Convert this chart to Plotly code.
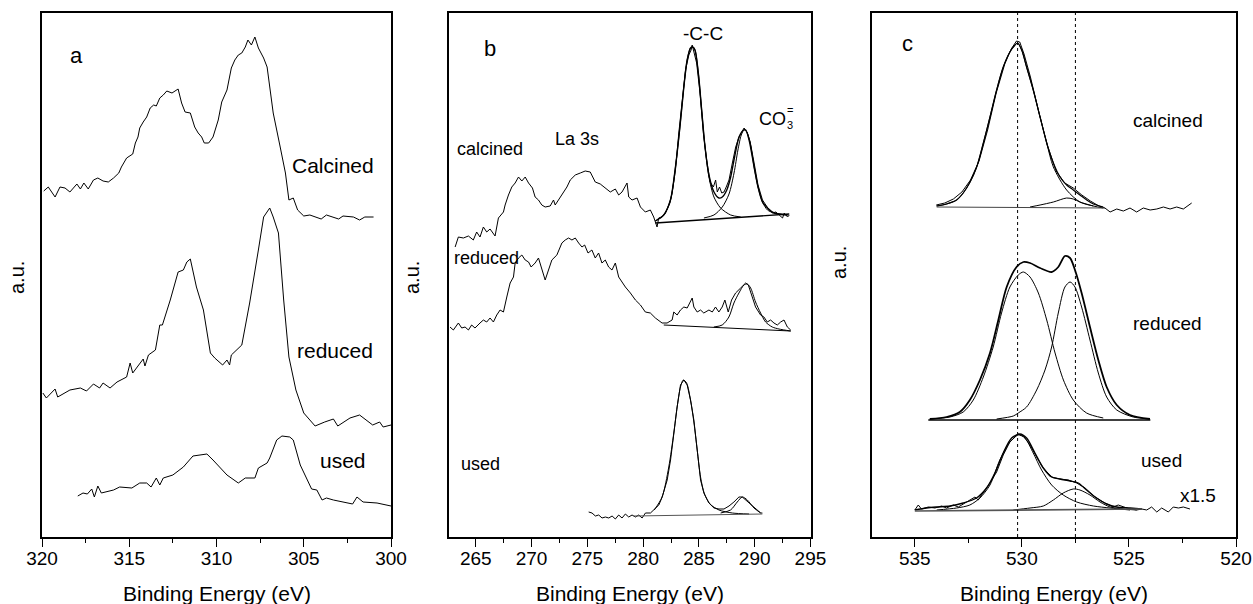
import plotly.graph_objects as go

FONT = "Liberation Sans, Arial, sans-serif"

# ---------------- Panel a ----------------
a_cal_E = [319.9, 319.64, 319.25, 318.97, 318.68, 318.4, 318.0, 317.8, 317.6, 317.35, 317.05, 316.8, 316.5, 316.2,
           315.9, 315.6, 315.45, 315.15, 314.8, 314.65, 314.5, 314.4, 314.2, 314.0, 313.8, 313.6, 313.45, 313.25,
           313.05, 312.85, 312.55, 312.4, 312.2, 312.0, 311.8, 311.5, 311.25, 311.05, 310.85, 310.7, 310.45, 310.2,
           309.9, 309.7, 309.4, 309.15, 308.95, 308.75, 308.55, 308.35, 308.2, 308.0, 307.8, 307.6, 307.3, 307.1,
           306.95, 306.75, 306.35, 306.05, 305.85, 305.6, 305.35, 305.0, 304.65, 304.25, 304.0, 303.7, 303.3, 303.0,
           302.75, 302.15, 301.8, 301.5, 301.0]
a_cal_I = [346, 350, 340, 350, 349, 345, 353, 348, 354, 348, 357, 359, 356, 355, 359, 364, 370, 379, 383, 394,
           400, 409, 415, 420, 429, 432, 431, 439, 442, 446, 444, 446, 448, 434, 425, 424, 410, 404, 400, 394,
           394, 400, 417, 435, 447, 469, 477, 482, 484, 490, 497, 492, 500, 489, 479, 470, 450, 424, 390, 364,
           337, 339, 327, 321, 322, 320, 318, 322, 320, 318, 321, 320, 317, 320, 320]

a_red_E = [319.95, 319.75, 319.25, 319.1, 318.4, 317.8, 317.45, 317.05, 316.7, 316.5, 316.1, 315.7, 315.15, 314.95,
           314.8, 314.2, 314.1, 313.9, 313.5, 313.25, 313.1, 312.65, 312.2, 311.9, 311.7, 311.5, 311.15, 310.75,
           310.35, 310.1, 309.65, 309.4, 309.25, 309.15, 308.55, 308.1, 307.6, 307.3, 306.95, 306.75, 306.45, 306.15,
           305.85, 305.45, 305.0, 304.35, 303.8, 303.3, 303.05, 302.35, 301.8, 301.05, 300.65, 300.45, 300.0]
a_red_I = [144, 139, 148, 140, 147, 149, 146, 153, 149, 154, 149, 155, 160, 174, 164, 178, 171, 182, 187, 212,
           212, 237, 265, 267, 275, 278, 250, 227, 184, 179, 172, 177, 172, 182, 192, 234, 287, 320, 329, 320,
           304, 237, 180, 147, 124, 111, 115, 118, 111, 119, 122, 112, 115, 110, 112]

a_used_E = [317.95, 317.65, 317.4, 317.15, 317.0, 316.8, 316.6, 315.9, 315.55, 314.85, 314.4, 314.0, 313.75, 313.45,
            313.25, 313.05, 312.5, 311.9, 311.35, 310.75, 310.55, 310.2, 309.4, 308.75, 308.35, 307.8, 307.6, 307.1,
            306.95, 306.55, 306.25, 305.8, 305.6, 305.2, 304.55, 304.25, 303.95, 303.7, 303.3, 302.2, 301.95, 301.6,
            300.8, 300.0]
a_used_I = [41, 44, 43, 48, 40, 51, 44, 47, 50, 49, 54, 54, 50, 59, 52, 59, 62, 70, 81, 82, 83, 77, 62, 54,
            59, 59, 69, 74, 79, 97, 101, 100, 97, 72, 48, 47, 37, 39, 37, 33, 40, 35, 34, 31]

# ---------------- Panel b (C 1s / La 3s) ----------------
b_cal_E1 = [263.15, 263.44, 263.89, 264.34, 264.78, 265.08, 265.38, 265.68, 265.98, 266.28, 266.73, 267.03, 267.48,
            267.63, 267.93, 268.23, 268.53, 268.83, 269.13, 269.43, 269.73, 270.08, 270.32, 270.62, 270.92, 271.22,
            271.67, 271.97, 272.12, 272.57, 272.87, 273.17, 273.47, 273.92, 274.37, 274.81, 275.26, 275.71, 276.16,
            276.61, 277.06, 277.51, 277.81, 278.11, 278.56, 278.71, 279.01, 279.46, 279.76, 280.2, 280.65, 280.95]
b_cal_I1 = [290, 300, 299, 301, 297, 305, 300, 310, 305, 308, 301, 319, 325, 332, 342, 350, 354, 360, 356, 360,
            354, 349, 340, 337, 332, 330, 331, 337, 332, 340, 344, 350, 357, 362, 364, 366, 365, 355, 353, 349,
            345, 348, 342, 345, 354, 340, 337, 339, 330, 325, 327, 320]
b_cal_E2 = [281.1, 281.25, 281.4, 281.7, 282.0, 282.2, 282.4, 282.6, 282.9, 283.2, 283.5, 283.8, 284.1, 284.3, 284.4,
            284.55, 284.8, 285.1, 285.4, 285.7, 286.0, 286.3, 286.5, 286.65, 286.85, 287.05, 287.25, 287.45, 287.7,
            288.0, 288.3, 288.6, 288.85, 289.05, 289.3, 289.6, 289.95, 290.3, 290.7, 291.0, 291.3, 291.6, 291.9,
            292.2, 292.5, 292.65, 292.95, 293.1]
b_cal_I2 = [315, 310, 319, 320, 324, 330, 334, 344, 367, 404, 437, 467, 482, 487, 492, 484, 474, 444, 404, 377,
            355, 350, 357, 345, 350, 344, 345, 350, 357, 374, 390, 400, 405, 409, 405, 395, 374, 352, 337, 332,
            327, 324, 325, 322, 319, 324, 320, 322]
b_cal_env_E = [281.1, 281.85, 282.45, 282.9, 283.3, 283.65, 283.95, 284.25, 284.45, 284.65, 284.95, 285.25, 285.55,
               285.9, 286.35, 286.8, 287.1, 287.5, 287.85, 288.2, 288.6, 289.0, 289.2, 289.5, 289.95, 290.3, 290.7,
               291.15, 291.75, 292.95]
b_cal_env_I = [316, 322, 337, 370, 410, 450, 477, 489, 490, 487, 464, 427, 390, 362, 345, 339, 340, 347, 360, 380,
               400, 407, 407, 397, 370, 350, 335, 329, 324, 322]
b_cal_cc_E = [281.1, 281.85, 282.45, 282.9, 283.3, 283.65, 283.95, 284.25, 284.45, 284.65, 284.95, 285.25, 285.55,
              285.9, 286.35, 286.95, 287.85, 288.75]
b_cal_cc_I = [316, 322, 337, 370, 410, 450, 477, 489, 490, 487, 464, 427, 390, 360, 340, 329, 322, 320]
b_cal_co3_E = [285.45, 286.35, 287.1, 287.7, 288.15, 288.5, 288.8, 289.05, 289.3, 289.6, 289.95, 290.3, 290.7,
               291.15, 291.75, 292.95]
b_cal_co3_I = [319, 322, 330, 343, 364, 387, 402, 407, 405, 394, 370, 350, 335, 327, 324, 322]
b_cal_base_E = [281.1, 293.1]
b_cal_base_I = [314, 323]

b_red_E = [262.69, 262.99, 263.44, 263.74, 264.04, 264.34, 264.63, 264.93, 265.38, 265.68,
           265.98, 266.28, 266.58, 266.88, 267.18, 267.48, 267.78, 268.08, 268.38, 268.53,
           268.83, 269.13, 269.43, 269.73, 269.96, 270.32, 270.62, 270.92, 271.22, 271.52,
           271.82, 272.27, 272.72, 273.02, 273.32, 273.62, 273.92, 274.22, 274.52, 274.76,
           275.06, 275.41, 275.71, 276.01, 276.31, 276.61, 276.91, 277.21, 277.51, 277.81,
           278.11, 278.41, 278.86, 279.31, 279.76, 280.2, 280.65, 281.1, 281.7, 282.15,
           282.6, 282.75, 283.05, 283.35, 283.65, 283.95, 284.4, 284.55, 284.85, 285.15,
           285.44, 285.9, 286.2, 286.49, 286.79, 287.09, 287.33, 287.63, 287.93, 288.29,
           288.74, 289.19, 289.43, 289.73, 290.08, 290.53, 290.83, 291.13, 291.43, 291.73,
           292.03, 292.33, 292.63, 292.93, 293.23]
b_red_I = [210, 207, 214, 209, 210, 207, 212, 209, 214, 217,
           215, 219, 215, 222, 227, 225, 240, 254, 260, 274,
           279, 282, 277, 275, 270, 274, 279, 267, 257, 267,
           277, 282, 294, 297, 299, 297, 299, 294, 290, 292,
           284, 287, 279, 284, 274, 277, 270, 267, 274, 260,
           255, 250, 244, 237, 232, 225, 224, 219, 214, 214,
           217, 225, 222, 227, 230, 229, 239, 230, 225, 227,
           224, 227, 225, 230, 225, 230, 237, 225, 237, 244,
           249, 254, 252, 242, 230, 222, 220, 215, 217, 214,
           212, 215, 217, 210, 207]
b_red_co3_E = [286.34, 287.09, 287.69, 288.14, 288.59, 289.04, 289.34, 289.64, 290.08, 290.53, 290.98, 291.58,
               292.18, 293.23]
b_red_co3_I = [210, 212, 220, 234, 244, 252, 253, 249, 235, 224, 215, 210, 208, 206]
b_red_base_E = [281.85, 293.23]
b_red_base_I = [212, 206]

b_used_E = [275.12, 275.42, 275.72, 276.02, 276.32, 276.62, 276.92, 277.22, 277.51, 277.81,
            278.11, 278.41, 278.71, 279.01, 279.31, 279.61, 279.91, 280.21, 280.66, 281.11,
            281.41, 281.71, 282.16, 282.46, 282.75, 283.05, 283.35, 283.65, 283.95, 284.25,
            284.55, 284.85, 285.15, 285.45, 285.9, 286.35, 286.8, 287.25, 287.7, 288.14,
            288.59, 288.89, 289.19, 289.64, 290.09, 290.54, 290.69]
b_used_I = [25, 24, 21, 22, 19, 20, 19, 21, 18, 22,
            19, 23, 20, 22, 20, 22, 19, 24, 24, 29,
            32, 40, 57, 77, 104, 130, 152, 157, 152, 137,
            117, 87, 57, 44, 34, 29, 28, 28, 31, 35,
            40, 40, 37, 32, 28, 24, 24]
b_used_cc_E = [281.0, 281.7, 282.3, 282.75, 283.05, 283.35, 283.6, 283.9, 284.25, 284.55, 284.85, 285.15, 285.5,
               286.0, 286.8, 288.0, 289.5]
b_used_cc_I = [27, 40, 70, 104, 130, 150, 157, 154, 137, 115, 87, 60, 43, 33, 27, 24, 23]
b_used_co3_E = [286.95, 287.84, 288.44, 288.89, 289.34, 289.94, 290.54]
b_used_co3_I = [24, 27, 35, 40, 37, 29, 24]
b_used_base_E = [279.16, 290.69]
b_used_base_I = [21, 23]

# ---------------- Panel c (O 1s) ----------------
c_ref_E = [530.2, 527.5]

c_cal_raw_E = [534.0, 533.6, 533.2, 532.8, 532.4, 532.0, 531.6, 531.2, 530.8, 530.5, 530.25, 530.1, 529.9, 529.6,
               529.2, 528.8, 528.4, 528.0, 527.6, 527.2, 526.8, 526.4, 526.12, 525.88, 525.57, 525.26, 524.95,
               524.64, 524.33, 524.01, 523.7, 523.39, 523.08, 522.77, 522.46, 522.22, 522.07]
c_cal_raw_I = [332, 334, 338, 345, 357, 376, 407, 444, 473, 488, 496, 495, 483, 460, 424, 391, 366, 354, 349, 342,
               336, 331, 329, 325, 328, 326, 329, 325, 329, 327, 328, 330, 328, 330, 328, 332, 334]
c_cal_env_E = [533.98, 533.52, 533.05, 532.74, 532.42, 532.11, 531.8, 531.49, 531.18, 530.87, 530.56, 530.32, 530.2,
               530.01, 529.78, 529.47, 529.15, 528.84, 528.53, 528.22, 527.91, 527.6, 527.29, 526.97, 526.66, 526.2]
c_cal_env_I = [331, 333, 337, 344, 355, 370, 394, 420, 447, 470, 485, 492, 494, 487, 470, 447, 420, 394, 374, 360,
               352, 347, 342, 337, 333, 330]
c_cal_p1_E = [533.98, 533.52, 533.05, 532.74, 532.42, 532.11, 531.8, 531.49, 531.18, 530.87, 530.56, 530.32, 530.2,
              530.01, 529.78, 529.47, 529.15, 528.84, 528.53, 527.91, 527.29, 526.66]
c_cal_p1_I = [331, 333, 337, 344, 355, 370, 394, 420, 447, 470, 485, 492, 494, 487, 470, 447, 420, 394, 370, 347,
              335, 331]
c_cal_p2_E = [529.62, 529.15, 528.53, 527.91, 527.6, 527.29, 526.66, 526.2]
c_cal_p2_I = [330, 332, 335, 339, 338, 335, 331, 329]
c_cal_base_E = [533.98, 526.12]
c_cal_base_I = [330, 329]

c_red_env_E = [534.3, 533.52, 532.9, 532.43, 531.96, 531.49, 531.1, 530.71, 530.25, 529.93, 529.62, 529.15, 528.61,
               528.3, 527.99, 527.75, 527.52, 527.21, 526.82, 526.43, 526.04, 525.57, 524.95, 524.02]
c_red_env_I = [118, 120, 125, 137, 157, 184, 217, 250, 270, 275, 274, 269, 265, 270, 281, 279, 267, 244, 210, 177,
               150, 132, 122, 118]
c_red_p1_E = [534.3, 533.36, 532.74, 532.27, 531.8, 531.34, 530.95, 530.56, 530.17, 529.93, 529.62, 529.23, 528.84,
              528.45, 528.06, 527.6, 526.98, 526.2]
c_red_p1_I = [118, 120, 125, 137, 160, 190, 224, 250, 262, 265, 260, 244, 217, 184, 157, 137, 124, 119]
c_red_p2_E = [531.18, 530.4, 530.17, 529.78, 529.31, 528.92, 528.61, 528.3, 527.99, 527.75, 527.52, 527.21, 526.82,
              526.43, 526.04, 525.57, 524.8, 524.02]
c_red_p2_I = [118, 121, 124, 130, 147, 167, 190, 224, 250, 255, 250, 230, 197, 164, 140, 127, 120, 118]
c_red_base_E = [534.37, 524.0]
c_red_base_I = [117, 117]

c_used_raw_E = [535.0, 534.84, 534.69, 534.37, 534.06, 533.75, 533.52, 533.2, 532.97, 532.66,
                532.43, 532.19, 532.04, 531.8, 531.49, 531.18, 530.87, 530.56, 530.17, 529.93,
                529.62, 529.31, 529.0, 528.61, 528.22, 527.83, 527.44, 527.05, 526.59, 526.12,
                525.73, 525.5, 525.1, 524.64, 524.4, 524.17, 523.94, 523.7, 523.47, 523.16,
                522.93, 522.69, 522.46, 522.15]
c_used_raw_I = [27, 32, 28, 30, 29, 31, 29, 32, 30, 34,
                37, 40, 37, 44, 54, 65, 82, 95, 103, 101,
                92, 80, 69, 60, 58, 57, 54, 49, 40, 34,
                30, 32, 29, 27, 28, 27, 30, 25, 29, 25,
                30, 29, 30, 28]
c_used_env_E = [535.0, 534.45, 533.98, 533.36, 532.74, 532.12, 531.65, 531.26, 530.87, 530.48, 530.09, 529.78,
                529.39, 529.0, 528.61, 528.22, 527.75, 527.37, 526.98, 526.51, 526.04, 525.57, 524.95, 524.4]
c_used_env_I = [27, 29, 30, 31, 34, 39, 49, 64, 84, 99, 103, 99, 84, 69, 60, 58, 56, 54, 47, 39, 33, 30, 29, 28]
c_used_p1_E = [533.98, 533.05, 532.43, 531.96, 531.49, 531.03, 530.56, 530.17, 529.86, 529.47, 529.08, 528.61,
               528.07, 527.44, 526.66, 525.88, 524.95]
c_used_p1_I = [27, 29, 32, 39, 52, 77, 95, 102, 99, 84, 67, 52, 42, 35, 31, 29, 27]
c_used_p2_E = [530.4, 529.62, 529.0, 528.53, 528.07, 527.6, 527.29, 526.82, 526.35, 525.88, 525.26, 524.64]
c_used_p2_I = [27, 29, 31, 37, 44, 48, 47, 42, 35, 30, 28, 27]
c_used_base_E = [535.0, 524.4]
c_used_base_I = [26, 28]

# ---------------- Figure ----------------
fig = go.Figure()


def add(x, y, ax, w=1.0, shape="linear", color="black", dash="solid"):
    fig.add_trace(go.Scatter(
        x=x, y=y, mode="lines", xaxis="x" + ax, yaxis="y" + ax,
        line=dict(color=color, width=w, shape=shape, smoothing=0.8 if shape == "spline" else None, dash=dash),
        showlegend=False, hoverinfo="skip"))


# panel a
add(a_cal_E, a_cal_I, "")
add(a_red_E, a_red_I, "")
add(a_used_E, a_used_I, "")

# panel b
add(b_cal_E1 + b_cal_E2, b_cal_I1 + b_cal_I2, "2")
add(b_cal_env_E, b_cal_env_I, "2", w=1.4, shape="spline")
add(b_cal_cc_E, b_cal_cc_I, "2", w=1.0, shape="spline")
add(b_cal_co3_E, b_cal_co3_I, "2", w=1.0, shape="spline")
add(b_cal_base_E, b_cal_base_I, "2", w=1.4)
add(b_red_E, b_red_I, "2")
add(b_red_co3_E, b_red_co3_I, "2", w=1.0, shape="spline")
add(b_red_base_E, b_red_base_I, "2", w=1.0)
add(b_used_E, b_used_I, "2")
add(b_used_cc_E, b_used_cc_I, "2", w=1.0, shape="spline")
add(b_used_co3_E, b_used_co3_I, "2", w=1.0, shape="spline")
add(b_used_base_E, b_used_base_I, "2", w=1.0, color="#555")

# panel c
add(c_cal_raw_E, c_cal_raw_I, "3")
add(c_cal_env_E, c_cal_env_I, "3", w=1.2, shape="spline")
add(c_cal_p1_E, c_cal_p1_I, "3", w=1.0, shape="spline")
add(c_cal_p2_E, c_cal_p2_I, "3", w=1.0, shape="spline")
add(c_cal_base_E, c_cal_base_I, "3", w=1.0, color="#444")
add(c_red_env_E, c_red_env_I, "3", w=1.8, shape="spline")
add(c_red_p1_E, c_red_p1_I, "3", w=1.0, shape="spline")
add(c_red_p2_E, c_red_p2_I, "3", w=1.0, shape="spline")
add(c_red_base_E, c_red_base_I, "3", w=1.5)
add(c_used_raw_E, c_used_raw_I, "3")
add(c_used_env_E, c_used_env_I, "3", w=1.4, shape="spline")
add(c_used_p1_E, c_used_p1_I, "3", w=1.0, shape="spline")
add(c_used_p2_E, c_used_p2_I, "3", w=1.0, shape="spline")
add(c_used_base_E, c_used_base_I, "3", w=1.6, color="#555")

for e in c_ref_E:
    fig.add_shape(type="line", xref="x3", yref="y3 domain", x0=e, x1=e, y0=0, y1=1,
                  line=dict(color="black", width=1, dash="dot"))

W, H = 1253, 604
ydom = [(H - 537) / H, (H - 13) / H]
doms = {"": [42 / W, 391 / W], "2": [449 / W, 811 / W], "3": [872 / W, 1236 / W]}
ranges = {"": [320, 300], "2": [262.6, 295.05], "3": [537.0, 520.0]}

layout = dict(width=W, height=H, margin=dict(l=0, r=0, t=0, b=0, pad=0, autoexpand=False),
              paper_bgcolor="white", plot_bgcolor="white",
              font=dict(family=FONT, color="black"))
for ax in ["", "2", "3"]:
    layout["xaxis" + ax] = dict(
        domain=doms[ax], range=ranges[ax], anchor="y" + ax, dtick=5, automargin=False,
        showline=True, mirror=True, linecolor="black", linewidth=1.5,
        ticks="outside", ticklen=8, tickwidth=1.2, tickcolor="black",
        ticklabelstandoff=-5,
        showgrid=False, zeroline=False,
        tickfont=dict(size=19, family=FONT, color="black"),
        minor=dict(ticks="outside", ticklen=4, dtick=2.5, tickwidth=1.2, tickcolor="black", showgrid=False))
    layout["yaxis" + ax] = dict(
        domain=ydom, range=[0, 524], anchor="x" + ax, automargin=False,
        showline=True, mirror=True, linecolor="black", linewidth=1.5,
        ticks="", showticklabels=False, showgrid=False, zeroline=False)
fig.update_layout(**layout)

ann = []
# axis titles
for ax, cx in [("", (42 + 391) / 2), ("2", (449 + 811) / 2), ("3", (872 + 1236) / 2)]:
    ann.append(dict(text="Binding Energy (eV)", xref="paper", yref="paper", x=cx / W, y=1 - 593 / H,
                    showarrow=False, xanchor="center", yanchor="middle", font=dict(size=21)))
for px, py in [(17, 278), (412, 278), (839, 262)]:
    ann.append(dict(text="a.u.", xref="paper", yref="paper", x=px / W, y=1 - py / H, textangle=-90,
                    showarrow=False, xanchor="center", yanchor="middle", font=dict(size=20)))


def label(text, x, y, ax, size):
    ann.append(dict(text=text, xref="x" + ax, yref="y" + ax, x=x, y=y, showarrow=False,
                    xanchor="center", yanchor="middle", font=dict(size=size)))


label("a", 318.0, 482, "", 22)
label("Calcined", 303.33, 372, "", 21)
label("reduced", 303.2, 187, "", 21)
label("used", 302.75, 77, "", 21)

label("b", 266.28, 489, "2", 22)
label("-C-C", 285.4, 504, "2", 19)
label("CO", 291.6, 418, "2", 18)
label("=", 293.2, 427, "2", 11)
label("3", 293.2, 412, "2", 11)
label("La 3s", 274.1, 398, "2", 18)
label("calcined", 266.28, 388, "2", 18)
label("reduced", 265.99, 279, "2", 18)
label("used", 265.4, 73, "2", 18)

label("c", 535.34, 494, "3", 22)
label("calcined", 523.18, 417, "3", 19)
label("reduced", 523.18, 214, "3", 19)
label("used", 523.47, 77, "3", 19)
label("x1.5", 521.76, 42, "3", 19)

fig.update_layout(annotations=ann)
fig.write_html("out.html")
